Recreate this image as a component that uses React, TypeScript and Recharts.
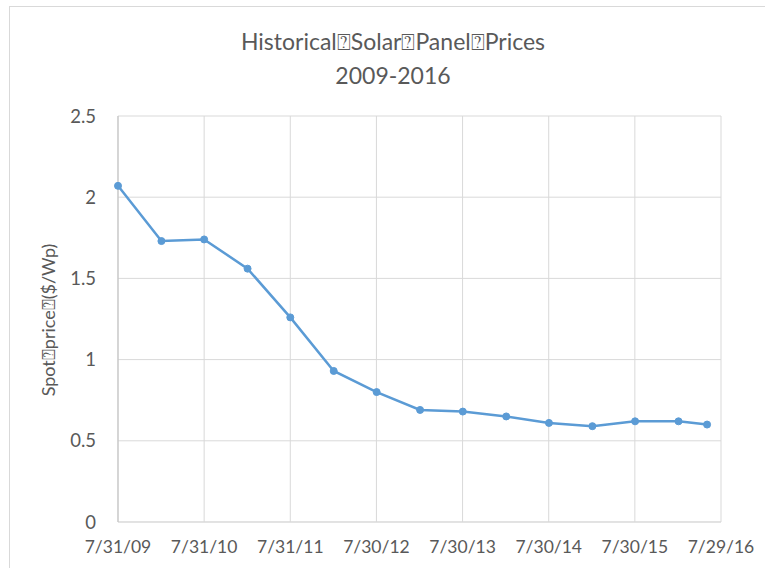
import { CartesianGrid, Line, LineChart, XAxis, YAxis } from "recharts";

const dates = [
  "2009-07-31", "2010-01-31", "2010-07-31", "2011-01-31", "2011-07-31",
  "2012-01-31", "2012-07-31", "2013-01-31", "2013-07-31", "2014-01-31",
  "2014-07-31", "2015-01-31", "2015-07-31", "2016-01-31", "2016-05-31"
];
const prices = [2.07, 1.73, 1.74, 1.56, 1.26, 0.93, 0.8, 0.69, 0.68, 0.65, 0.61, 0.59, 0.62, 0.62, 0.6];

const tickDates = ["2009-07-31", "2010-07-31", "2011-07-31", "2012-07-30", "2013-07-30", "2014-07-30", "2015-07-30", "2016-07-29"];
const yTicks = [0, 0.5, 1, 1.5, 2, 2.5];

const titleLines = ["Historical\u2370Solar\u2370Panel\u2370Prices", "2009-2016"];
const yLabel = "Spot\u2370price\u2370($/Wp)";

const toTime = (s: string) => {
  const [y, m, d] = s.split("-").map(Number);
  return Date.UTC(y, m - 1, d);
};

const data = dates.map((d, i) => ({ t: toTime(d), price: prices[i] }));
const xTicks = tickDates.map(toTime);

const fmtDate = (v: number) => {
  const d = new Date(v);
  return `${d.getUTCMonth() + 1}/${d.getUTCDate()}/${String(d.getUTCFullYear()).slice(2)}`;
};

const FONT = "Lato, 'Open Sans', sans-serif";
const GRAY = "#595959";

export default function App() {
  return (
    <div style={{ position: "fixed", left: 0, top: 0, width: 765, height: 568, overflow: "hidden", background: "#fff", fontFamily: FONT }}>
      <div style={{ position: "absolute", left: 9, top: 6, width: 780, height: 590, border: "1px solid #d9d9d9" }}>
        <div style={{ position: "absolute", left: 0, top: 17, width: 766, textAlign: "center", color: GRAY, fontSize: 23, lineHeight: "34px" }}>
          {titleLines.map((l) => (
            <div key={l}>{l}</div>
          ))}
        </div>
        <div
          style={{
            position: "absolute",
            left: 38,
            top: 313,
            transform: "translate(-50%, -50%) rotate(-90deg)",
            whiteSpace: "nowrap",
            color: GRAY,
            fontSize: 18
          }}
        >
          {yLabel}
        </div>
        <LineChart width={770} height={580} data={data} margin={{ top: 109, right: 59, bottom: 35, left: 48 }}>
          <CartesianGrid stroke="#d9d9d9" strokeWidth={1} verticalValues={xTicks} />
          <XAxis
            dataKey="t"
            type="number"
            scale="linear"
            domain={[xTicks[0], xTicks[xTicks.length - 1]]}
            ticks={xTicks}
            tickFormatter={fmtDate}
            axisLine={{ stroke: "#d9d9d9" }}
            tickLine={false}
            tick={{ fill: GRAY, fontSize: 17.5, fontFamily: FONT }}
            tickMargin={13}
            height={30}
            interval={0}
          />
          <YAxis
            type="number"
            domain={[0, 2.5]}
            ticks={yTicks}
            axisLine={{ stroke: "#bfbfbf" }}
            tickLine={false}
            tick={{ fill: GRAY, fontSize: 18.5, fontFamily: FONT }}
            tickMargin={16}
            width={60}
          />
          <Line
            type="linear"
            dataKey="price"
            stroke="#5b9bd5"
            strokeWidth={2.5}
            dot={{ r: 3.5, fill: "#5b9bd5", stroke: "#5b9bd5", strokeWidth: 1 }}
            activeDot={false}
            isAnimationActive={false}
          />
        </LineChart>
      </div>
    </div>
  );
}
